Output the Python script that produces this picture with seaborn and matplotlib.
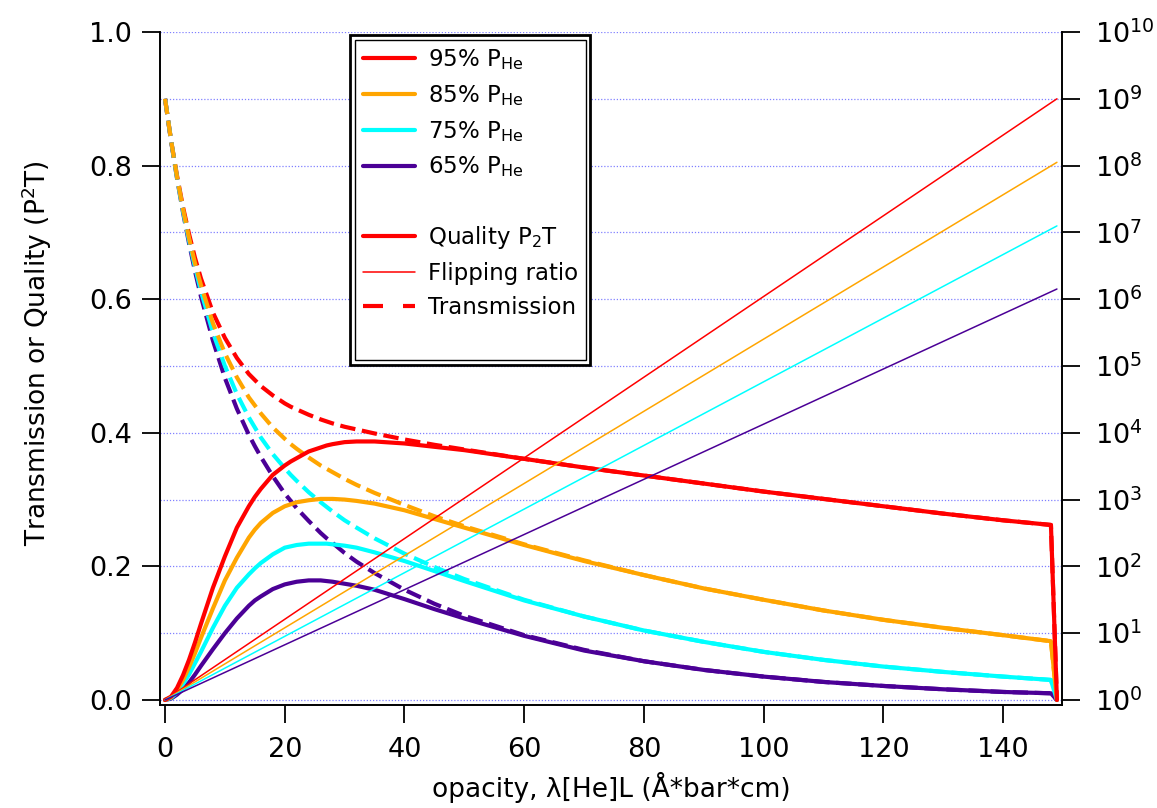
import numpy as np
import pandas as pd
import seaborn as sns
import matplotlib
matplotlib.use("Agg")
import matplotlib.pyplot as plt
from matplotlib.patches import Rectangle
from matplotlib.lines import Line2D
from matplotlib.ticker import NullLocator, MultipleLocator, FormatStrFormatter, LogFormatterSciNotation

# ---------------- data ----------------
opacity = [0, 1, 2, 3, 4, 5, 6, 8, 10, 12,
           14, 15, 16, 18, 20, 21, 22, 24, 26, 27,
           28, 30, 32, 35, 40, 45, 50, 60, 70, 80,
           90, 100, 110, 120, 130, 140, 148, 149]

trans_95 = [0.9, 0.838, 0.785, 0.738, 0.698, 0.662, 0.631, 0.580, 0.542, 0.512,
            0.488, 0.479, 0.470, 0.456, 0.444, 0.439, 0.435, 0.427, 0.420, 0.417,
            0.414, 0.409, 0.405, 0.399, 0.390, 0.382, 0.375, 0.361, 0.348, 0.336,
            0.324, 0.312, 0.301, 0.290, 0.279, 0.269, 0.262, 0]
qual_95 = [0, 0.005, 0.018, 0.037, 0.060, 0.086, 0.114, 0.168, 0.215, 0.258,
           0.290, 0.304, 0.316, 0.337, 0.351, 0.357, 0.362, 0.372, 0.378, 0.381,
           0.383, 0.386, 0.387, 0.387, 0.384, 0.379, 0.374, 0.361, 0.348, 0.336,
           0.324, 0.312, 0.301, 0.290, 0.279, 0.269, 0.262, 0]

trans_85 = [0.9, 0.838, 0.783, 0.735, 0.692, 0.654, 0.621, 0.564, 0.519, 0.483,
            0.453, 0.441, 0.429, 0.408, 0.391, 0.383, 0.376, 0.363, 0.351, 0.346,
            0.341, 0.331, 0.322, 0.310, 0.292, 0.275, 0.260, 0.233, 0.209, 0.187,
            0.167, 0.150, 0.134, 0.120, 0.108, 0.097, 0.088, 0]
qual_85 = [0, 0.004, 0.015, 0.030, 0.049, 0.070, 0.093, 0.137, 0.179, 0.213,
           0.243, 0.255, 0.265, 0.280, 0.290, 0.293, 0.296, 0.299, 0.301, 0.301,
           0.301, 0.300, 0.298, 0.294, 0.284, 0.271, 0.258, 0.232, 0.208, 0.187,
           0.167, 0.150, 0.134, 0.120, 0.108, 0.097, 0.088, 0]

trans_75 = [0.9, 0.838, 0.782, 0.732, 0.688, 0.648, 0.612, 0.550, 0.500, 0.458,
            0.423, 0.408, 0.393, 0.368, 0.347, 0.337, 0.328, 0.311, 0.296, 0.289,
            0.282, 0.269, 0.258, 0.242, 0.219, 0.199, 0.181, 0.150, 0.125, 0.104,
            0.087, 0.072, 0.060, 0.050, 0.042, 0.035, 0.030, 0]
qual_75 = [0, 0.003, 0.011, 0.024, 0.038, 0.055, 0.072, 0.108, 0.141, 0.168,
           0.188, 0.197, 0.205, 0.218, 0.228, 0.230, 0.232, 0.234, 0.234, 0.234,
           0.233, 0.231, 0.228, 0.221, 0.208, 0.193, 0.178, 0.149, 0.125, 0.104,
           0.087, 0.072, 0.060, 0.050, 0.042, 0.035, 0.030, 0]

trans_65 = [0.9, 0.837, 0.781, 0.730, 0.684, 0.642, 0.604, 0.538, 0.482, 0.436,
            0.397, 0.380, 0.364, 0.335, 0.309, 0.298, 0.287, 0.268, 0.250, 0.242,
            0.235, 0.220, 0.207, 0.190, 0.165, 0.144, 0.126, 0.097, 0.075, 0.058,
            0.045, 0.035, 0.027, 0.021, 0.016, 0.012, 0.010, 0]
qual_65 = [0, 0.002, 0.008, 0.016, 0.026, 0.038, 0.051, 0.076, 0.100, 0.122,
           0.141, 0.149, 0.155, 0.166, 0.173, 0.175, 0.177, 0.179, 0.179, 0.178,
           0.177, 0.174, 0.171, 0.165, 0.151, 0.136, 0.122, 0.096, 0.074, 0.058,
           0.045, 0.035, 0.027, 0.021, 0.016, 0.012, 0.010, 0]

flip_x = [0, 149]
flip_95 = [1, 1.0e9]
flip_85 = [1, 1.12e8]
flip_75 = [1, 1.25e7]
flip_65 = [1, 1.42e6]

right_ticks = [1e0, 1e1, 1e2, 1e3, 1e4, 1e5, 1e6, 1e7, 1e8, 1e9, 1e10]

series_labels = ["95% P$_\\mathregular{He}$", "85% P$_\\mathregular{He}$",
                 "75% P$_\\mathregular{He}$", "65% P$_\\mathregular{He}$"]
style_labels = ["Quality P$_\\mathregular{2}$T", "Flipping ratio", "Transmission"]
x_label = "opacity, \u03bb[He]L (\u00c5*bar*cm)"
y_label = "Transmission or Quality (P$^\\mathregular{2}$T)"

colors = ["#ff0000", "#ffa500", "#00ffff", "#4b0096"]

# ---------------- style ----------------
sns.set_theme(style="ticks")
plt.rcParams["font.family"] = ["DejaVu Sans"]
plt.rcParams["mathtext.fontset"] = "dejavusans"
for key in ["text.color", "axes.labelcolor", "xtick.color", "ytick.color", "axes.edgecolor"]:
    plt.rcParams[key] = "black"

FS_TICK = 19.5
FS_LABEL = 19
fig = plt.figure(figsize=(11.57, 8.08), dpi=100)
fig.patch.set_facecolor("white")
ax = fig.add_axes([0.1383, 0.1275, 0.7796, 0.8329])
ax.set_facecolor("white")
ax2 = ax.twinx()

trans = [trans_95, trans_85, trans_75, trans_65]
quals = [qual_95, qual_85, qual_75, qual_65]
flips = [flip_95, flip_85, flip_75, flip_65]

LW_Q = 3.0
dash = (0, (4.8, 4.8))

# dashed transmission (drawn first, under quality)
for idx in [0, 3, 2, 1]:
    sns.lineplot(x=opacity, y=trans[idx], ax=ax, color=colors[idx], lw=LW_Q,
                 linestyle="--", dashes=(4.8, 4.8), sort=False, estimator=None, zorder=2)
for idx in [3, 2, 1, 0]:
    sns.lineplot(x=opacity, y=quals[idx], ax=ax, color=colors[idx], lw=LW_Q,
                 sort=False, estimator=None, zorder=3)
for idx in range(4):
    sns.lineplot(x=flip_x, y=flips[idx], ax=ax2, color=colors[idx], lw=1.1,
                 sort=False, estimator=None)

# left axis
ax.set_xlim(-0.84, 149.85)
ax.set_ylim(-0.0075, 1.0)
ax.xaxis.set_major_locator(MultipleLocator(20))
ax.yaxis.set_major_locator(MultipleLocator(0.2))
ax.yaxis.set_minor_locator(MultipleLocator(0.1))
ax.yaxis.set_major_formatter(FormatStrFormatter("%.1f"))
ax.grid(True, axis="y", which="both", color="#8080ff", linestyle=(0, (1, 1.5)), lw=0.9)
ax.set_axisbelow(True)
ax.tick_params(axis="both", which="major", direction="out", length=13, width=1.3,
               labelsize=FS_TICK, colors="black")
ax.tick_params(axis="x", which="major", pad=10)
ax.tick_params(axis="y", which="major", pad=7)
ax.tick_params(axis="y", which="minor", length=0)
for s in ["top", "right"]:
    ax.spines[s].set_visible(False)
for s in ["left", "bottom"]:
    ax.spines[s].set_linewidth(1.4)
    ax.spines[s].set_color("black")
ax.set_xlabel(x_label, fontsize=FS_LABEL, color="black")
ax.set_ylabel(y_label, fontsize=FS_LABEL, color="black")
ax.xaxis.set_label_coords(0.5, -0.0996)
ax.yaxis.set_label_coords(-0.118, 0.523)

# right axis
ax2.set_yscale("log")
ax2.set_ylim(10 ** (-0.075), 1e10)
ax2.set_yticks(right_ticks)
ax2.yaxis.set_major_formatter(LogFormatterSciNotation())
ax2.yaxis.set_minor_locator(NullLocator())
ax2.tick_params(axis="y", which="major", direction="out", length=13, width=1.3,
                labelsize=FS_TICK, pad=11, colors="black")
for s in ["top", "left", "bottom"]:
    ax2.spines[s].set_visible(False)
ax2.spines["right"].set_linewidth(1.4)
ax2.spines["right"].set_color("black")
ax2.set_ylabel("")
ax2.set_xlabel("")
ax.set_zorder(1)
ax2.set_zorder(2)
ax2.patch.set_visible(False)

# legend box (double border)
outer = Rectangle((0.3025, 0.5483), 0.2074, 0.4084, transform=fig.transFigure,
                  fill=True, facecolor="white", edgecolor="black", lw=2.0, zorder=8)
inner = Rectangle((0.3068, 0.5545), 0.1997, 0.3960, transform=fig.transFigure,
                  fill=False, edgecolor="black", lw=1.0, zorder=9)
fig.add_artist(outer)
fig.add_artist(inner)

handles = [Line2D([], [], color=c, lw=LW_Q) for c in colors]
handles.append(Line2D([], [], color="none"))
handles.append(Line2D([], [], color="#ff0000", lw=LW_Q))
handles.append(Line2D([], [], color="#ff0000", lw=1.1))
handles.append(Line2D([], [], color="#ff0000", lw=LW_Q, linestyle=dash))
labels = series_labels + [" "] + style_labels
leg = fig.legend(handles, labels, loc="upper left", bbox_to_anchor=(0.3137, 0.942),
                 frameon=False, fontsize=16.5, handlelength=2.25, handletextpad=0.57,
                 labelspacing=0.48, borderpad=0, borderaxespad=0)
for t in leg.get_texts():
    t.set_color("black")
leg.set_zorder(10)

fig.savefig("out.png", dpi=100, facecolor="white")
